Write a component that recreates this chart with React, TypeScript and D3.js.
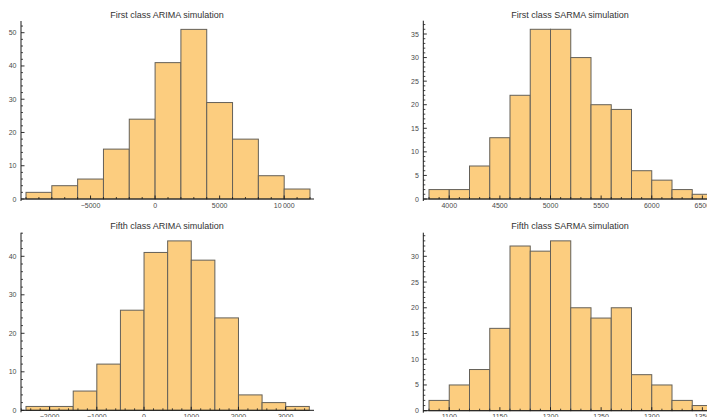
import React from "react";
import * as d3 from "d3";

// ---- data ----
const firstArimaStart = -10000;
const firstArimaWidth = 2000;
const firstArimaCounts = [2, 4, 6, 15, 24, 41, 51, 29, 18, 7, 3];
const firstArimaXTicks = [-5000, 0, 5000, 10000];
const firstArimaYTicks = [0, 10, 20, 30, 40, 50];

const firstSarmaStart = 3800;
const firstSarmaWidth = 200;
const firstSarmaCounts = [2, 2, 7, 13, 22, 36, 36, 30, 20, 19, 6, 4, 2, 1];
const firstSarmaXTicks = [4000, 4500, 5000, 5500, 6000, 6500];
const firstSarmaYTicks = [0, 5, 10, 15, 20, 25, 30, 35];

const fifthArimaStart = -2500;
const fifthArimaWidth = 500;
const fifthArimaCounts = [1, 1, 5, 12, 26, 41, 44, 39, 24, 4, 2, 1];
const fifthArimaXTicks = [-2000, -1000, 0, 1000, 2000, 3000];
const fifthArimaYTicks = [0, 10, 20, 30, 40];

const fifthSarmaStart = 1080;
const fifthSarmaWidth = 20;
const fifthSarmaCounts = [2, 5, 8, 16, 32, 31, 33, 20, 18, 20, 7, 5, 2, 1];
const fifthSarmaXTicks = [1100, 1150, 1200, 1250, 1300, 1350];
const fifthSarmaYTicks = [0, 5, 10, 15, 20, 25, 30];

const titles = [
  "First class ARIMA simulation",
  "First class SARMA simulation",
  "Fifth class ARIMA simulation",
  "Fifth class SARMA simulation",
];

type PanelProps = {
  title: string;
  start: number;
  width: number;
  counts: number[];
  xTicks: number[];
  yTicks: number[];
  xMinor: number;
  yMinor: number;
  axisLeft: number;
  axisRight: number;
  barLeft: number;
  barRight: number;
  baseY: number;
  topY: number;
  refTick: number;
  refTickY: number;
  titleX: number;
  titleY: number;
};

const fmt = (v: number) => {
  const s = Math.abs(v) >= 10000 ? d3.format(",")(Math.abs(v)).replace(/,/g, "\u2009") : String(Math.abs(v));
  return (v < 0 ? "\u2212" : "") + s;
};

function Panel(p: PanelProps) {
  const n = p.counts.length;
  const x = d3
    .scaleLinear()
    .domain([p.start, p.start + n * p.width])
    .range([p.barLeft, p.barRight]);
  const y = d3.scaleLinear().domain([0, p.refTick]).range([p.baseY, p.refTickY]);
  const xMin = x.invert(p.axisLeft);
  const xMax = x.invert(p.axisRight);
  const yMax = y.invert(p.topY);
  const xMinorTicks = d3
    .range(Math.ceil(xMin / p.xMinor) * p.xMinor, xMax, p.xMinor)
    .filter((v) => !p.xTicks.includes(v));
  const yMinorTicks = d3
    .range(p.yMinor, yMax, p.yMinor)
    .filter((v) => !p.yTicks.includes(v));
  const allMajorY = d3.range(0, yMax, p.yTicks[1] - p.yTicks[0]);
  const axisColor = "#1a1a1a";
  const labelColor = "#4a4a4a";
  return (
    <g>
      <text
        x={p.titleX}
        y={p.titleY}
        textAnchor="middle"
        fontSize={9}
        fill="#333"
        fontFamily="Liberation Sans, Arial, sans-serif"
      >
        {p.title}
      </text>
      {p.counts.map((c, i) => {
        const x0 = x(p.start + i * p.width);
        const x1 = x(p.start + (i + 1) * p.width);
        return (
          <rect
            key={i}
            x={x0}
            y={y(c)}
            width={x1 - x0}
            height={y(0) - y(c)}
            fill="#fccd7f"
            stroke="#646058"
            strokeWidth={1}
          />
        );
      })}
      {/* axes */}
      <line x1={p.axisLeft} x2={p.axisRight} y1={p.baseY} y2={p.baseY} stroke={axisColor} strokeWidth={1} />
      <line x1={p.axisLeft} x2={p.axisLeft} y1={p.baseY + 2} y2={p.topY} stroke={axisColor} strokeWidth={1} />
      {xMinorTicks.map((v) => (
        <line key={"xm" + v} x1={x(v)} x2={x(v)} y1={p.baseY} y2={p.baseY - 2} stroke={axisColor} strokeWidth={0.8} />
      ))}
      {p.xTicks.map((v) => (
        <g key={"xt" + v}>
          <line x1={x(v)} x2={x(v)} y1={p.baseY} y2={p.baseY - 3.5} stroke={axisColor} strokeWidth={0.9} />
          <text
            x={x(v)}
            y={p.baseY + 8.5}
            textAnchor="middle"
            fontSize={7}
            fill={labelColor}
            fontFamily="Liberation Sans, Arial, sans-serif"
          >
            {fmt(v)}
          </text>
        </g>
      ))}
      {yMinorTicks.map((v) => (
        <line key={"ym" + v} x1={p.axisLeft} x2={p.axisLeft + 2} y1={y(v)} y2={y(v)} stroke={axisColor} strokeWidth={0.8} />
      ))}
      {allMajorY.map((v) => (
        <line key={"yt" + v} x1={p.axisLeft} x2={p.axisLeft + 3.5} y1={y(v)} y2={y(v)} stroke={axisColor} strokeWidth={0.9} />
      ))}
      {p.yTicks.map((v) => (
        <text
          key={"yl" + v}
          x={p.axisLeft - 4.5}
          y={y(v) + 2.5}
          textAnchor="end"
          fontSize={7}
          fill={labelColor}
          fontFamily="Liberation Sans, Arial, sans-serif"
        >
          {fmt(v)}
        </text>
      ))}
    </g>
  );
}

export default function App() {
  return (
    <svg
      width={707}
      height={417}
      style={{ position: "absolute", left: 0, top: 0, background: "#fff" }}
    >
      <Panel
        title={titles[0]}
        start={firstArimaStart}
        width={firstArimaWidth}
        counts={firstArimaCounts}
        xTicks={firstArimaXTicks}
        yTicks={firstArimaYTicks}
        xMinor={1000}
        yMinor={2}
        axisLeft={21}
        axisRight={314}
        barLeft={26}
        barRight={310}
        baseY={199}
        topY={21}
        refTick={50}
        refTickY={32.7}
        titleX={167}
        titleY={18}
      />
      <Panel
        title={titles[1]}
        start={firstSarmaStart}
        width={firstSarmaWidth}
        counts={firstSarmaCounts}
        xTicks={firstSarmaXTicks}
        yTicks={firstSarmaYTicks}
        xMinor={100}
        yMinor={1}
        axisLeft={423.3}
        axisRight={716}
        barLeft={429}
        barRight={712.5}
        baseY={199}
        topY={20.7}
        refTick={35}
        refTickY={34}
        titleX={570}
        titleY={18}
      />
      <Panel
        title={titles[2]}
        start={fifthArimaStart}
        width={fifthArimaWidth}
        counts={fifthArimaCounts}
        xTicks={fifthArimaXTicks}
        yTicks={fifthArimaYTicks}
        xMinor={200}
        yMinor={2}
        axisLeft={21}
        axisRight={314}
        barLeft={26}
        barRight={309.3}
        baseY={410.3}
        topY={232.7}
        refTick={40}
        refTickY={256.3}
        titleX={167}
        titleY={229}
      />
      <Panel
        title={titles[3]}
        start={fifthSarmaStart}
        width={fifthSarmaWidth}
        counts={fifthSarmaCounts}
        xTicks={fifthSarmaXTicks}
        yTicks={fifthSarmaYTicks}
        xMinor={10}
        yMinor={1}
        axisLeft={423.3}
        axisRight={716}
        barLeft={429}
        barRight={712.5}
        baseY={410.7}
        topY={232.7}
        refTick={30}
        refTickY={256.3}
        titleX={570}
        titleY={229}
      />
    </svg>
  );
}
